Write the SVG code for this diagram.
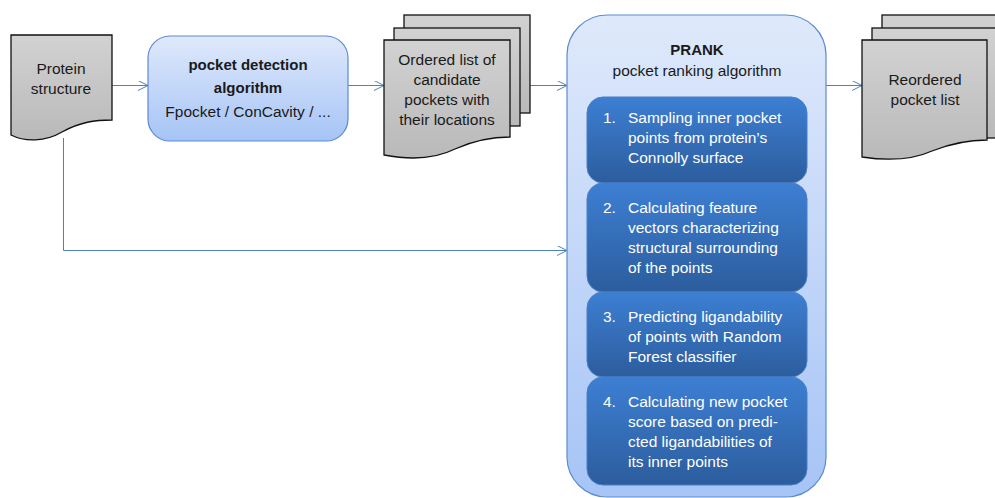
<svg xmlns="http://www.w3.org/2000/svg" width="995" height="498" viewBox="0 0 995 498">
<defs>
<linearGradient id="gGray" x1="0" y1="0" x2="0" y2="1"><stop offset="0" stop-color="#d2d2d2"/><stop offset="1" stop-color="#b9b9b9"/></linearGradient>
<linearGradient id="gLight" x1="0" y1="0" x2="0" y2="1"><stop offset="0" stop-color="#dfe9fb"/><stop offset="1" stop-color="#a6c4f6"/></linearGradient>
<linearGradient id="gDark" x1="0" y1="0" x2="0" y2="1"><stop offset="0" stop-color="#3d7fd3"/><stop offset="1" stop-color="#2c5d9d"/></linearGradient>
<marker id="arr" viewBox="0 0 11 10" markerWidth="11" markerHeight="10" refX="10" refY="5" orient="auto" markerUnits="userSpaceOnUse"><path d="M0,0 L10,5 L0,10" fill="none" stroke="#4f81bd" stroke-width="1"/></marker>
<style>
.doc{fill:url(#gGray);stroke:#111;stroke-width:1.3}
.lb{fill:url(#gLight);stroke:#5b8bd0;stroke-width:1.2}
.db{fill:url(#gDark);stroke:#4a7fc6;stroke-width:1}
.t{font-family:"Liberation Sans",Arial,sans-serif;font-size:15.5px;fill:#1a1a1a;text-anchor:middle}
.b{font-weight:bold;font-size:15px}
.w{font-family:"Liberation Sans",Arial,sans-serif;font-size:15.5px;fill:#ffffff}
.c{fill:none;stroke:#4f81bd;stroke-width:1;marker-end:url(#arr)}
</style>
</defs>
<rect width="995" height="498" fill="#ffffff"/>
<g id="connectors">
<path class="c" d="M112,85.5 H148"/>
<path class="c" d="M348,85.5 H384"/>
<path class="c" d="M530,85.5 H567"/>
<path class="c" d="M826,85.5 H862"/>
<path class="c" d="M63.5,138 V250.5 H567"/>
</g>
<g id="protein">
<path class="doc" d="M11,35 H112 V120 C95,120 80,122 62,132 C45,142 25,142 11,135 Z"/>
<text class="t" x="61" y="74">Protein</text>
<text class="t" x="61" y="94">structure</text>
</g>
<g id="detection">
<rect class="lb" x="148" y="36" width="200" height="105" rx="22"/>
<text class="t b" x="248" y="70">pocket detection</text>
<text class="t b" x="248" y="93">algorithm</text>
<text class="t" x="248" y="117">Fpocket / ConCavity / ...</text>
</g>
<g id="candidates">
<rect class="doc" x="404" y="15" width="126" height="98"/>
<rect class="doc" x="394" y="28" width="126" height="98"/>
<path class="doc" d="M384,40 H510 V137 C492,137 475,140 455,149 C435,159 410,160 384,155 Z"/>
<text class="t" x="447" y="65">Ordered list of</text>
<text class="t" x="447" y="85">candidate</text>
<text class="t" x="447" y="105">pockets with</text>
<text class="t" x="447" y="125">their locations</text>
</g>
<g id="prank">
<rect class="lb" x="567" y="15" width="259" height="482" rx="40"/>
<text class="t b" x="697" y="55">PRANK</text>
<text class="t" x="697" y="76">pocket ranking algorithm</text>
</g>
<g id="step1">
<rect class="db" x="587" y="97" width="220" height="86" rx="16"/>
<text class="w" x="603" y="123">1.</text>
<text class="w" x="628" y="123">Sampling inner pocket</text>
<text class="w" x="628" y="143">points from protein’s</text>
<text class="w" x="628" y="163">Connolly surface</text>
</g>
<g id="step2">
<rect class="db" x="587" y="183" width="220" height="109" rx="16"/>
<text class="w" x="603" y="213">2.</text>
<text class="w" x="628" y="213">Calculating feature</text>
<text class="w" x="628" y="233">vectors characterizing</text>
<text class="w" x="628" y="253">structural surrounding</text>
<text class="w" x="628" y="273">of the points</text>
</g>
<g id="step3">
<rect class="db" x="587" y="292" width="220" height="85" rx="16"/>
<text class="w" x="603" y="322">3.</text>
<text class="w" x="628" y="322">Predicting ligandability</text>
<text class="w" x="628" y="342">of points with Random</text>
<text class="w" x="628" y="362">Forest classifier</text>
</g>
<g id="step4">
<rect class="db" x="587" y="377" width="220" height="108" rx="16"/>
<text class="w" x="603" y="407">4.</text>
<text class="w" x="628" y="407">Calculating new pocket</text>
<text class="w" x="628" y="427">score based on predi-</text>
<text class="w" x="628" y="447">cted ligandabilities of</text>
<text class="w" x="628" y="467">its inner points</text>
</g>
<g id="reordered">
<rect class="doc" x="882" y="15" width="126" height="110"/>
<rect class="doc" x="872" y="28" width="126" height="110"/>
<path class="doc" d="M862,40 H987 V140 C969,140 952,143 932,151 C912,160 888,161 862,157 Z"/>
<text class="t" x="925" y="85">Reordered</text>
<text class="t" x="925" y="105">pocket list</text>
</g>
</svg>
